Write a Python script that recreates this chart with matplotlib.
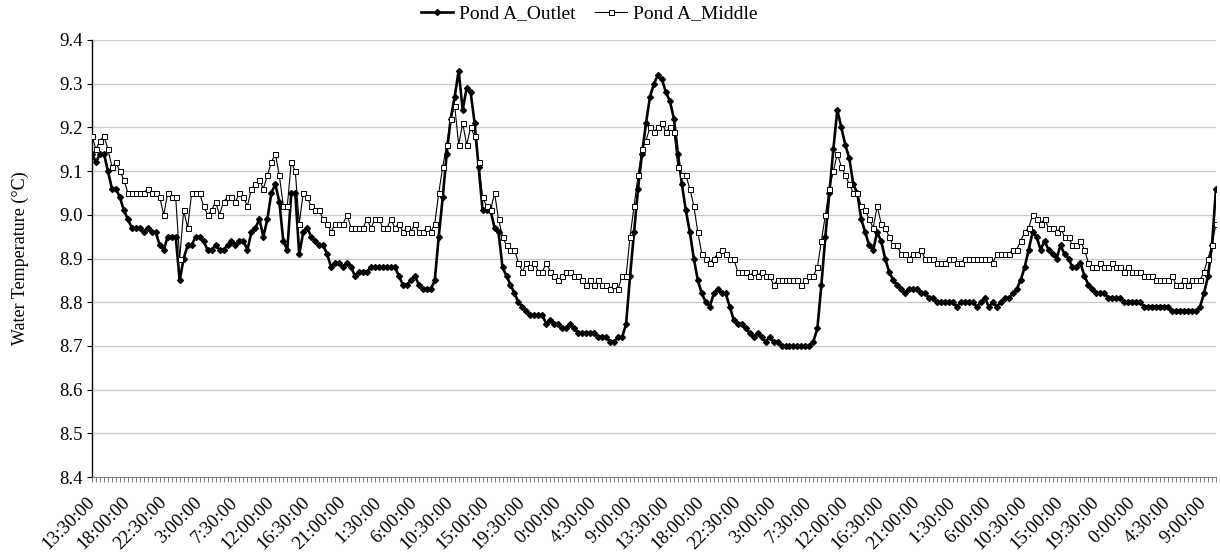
import matplotlib.pyplot as plt
import numpy as np

plt.rcParams['font.family'] = ['Liberation Serif', 'DejaVu Serif']

# water temperature every 30 min, first reading at 13:30
outlet = [
    9.14, 9.12, 9.14, 9.14, 9.10, 9.06, 9.06, 9.04, 9.01, 8.99,
    8.97, 8.97, 8.97, 8.96, 8.97, 8.96, 8.96, 8.93, 8.92, 8.95,
    8.95, 8.95, 8.85, 8.90, 8.93, 8.93, 8.95, 8.95, 8.94, 8.92,
    8.92, 8.93, 8.92, 8.92, 8.93, 8.94, 8.93, 8.94, 8.94, 8.92,
    8.96, 8.97, 8.99, 8.95, 8.99, 9.05, 9.07, 9.03, 8.94, 8.92,
    9.05, 9.05, 8.91, 8.96, 8.97, 8.95, 8.94, 8.93, 8.93, 8.91,
    8.88, 8.89, 8.89, 8.88, 8.89, 8.88, 8.86, 8.87, 8.87, 8.87,
    8.88, 8.88, 8.88, 8.88, 8.88, 8.88, 8.88, 8.86, 8.84, 8.84,
    8.85, 8.86, 8.84, 8.83, 8.83, 8.83, 8.85, 8.95, 9.04, 9.14,
    9.22, 9.27, 9.33, 9.24, 9.29, 9.28, 9.21, 9.11, 9.01, 9.01,
    9.01, 8.97, 8.96, 8.88, 8.86, 8.84, 8.82, 8.80, 8.79, 8.78,
    8.77, 8.77, 8.77, 8.77, 8.75, 8.76, 8.75, 8.75, 8.74, 8.74,
    8.75, 8.74, 8.73, 8.73, 8.73, 8.73, 8.73, 8.72, 8.72, 8.72,
    8.71, 8.71, 8.72, 8.72, 8.75, 8.86, 8.96, 9.06, 9.14, 9.21,
    9.27, 9.30, 9.32, 9.31, 9.28, 9.26, 9.22, 9.14, 9.07, 9.01,
    8.96, 8.90, 8.85, 8.82, 8.80, 8.79, 8.82, 8.83, 8.82, 8.82,
    8.79, 8.76, 8.75, 8.75, 8.74, 8.73, 8.72, 8.73, 8.72, 8.71,
    8.72, 8.71, 8.71, 8.70, 8.70, 8.70, 8.70, 8.70, 8.70, 8.70,
    8.70, 8.71, 8.74, 8.84, 8.95, 9.05, 9.15, 9.24, 9.20, 9.16,
    9.13, 9.07, 9.05, 8.99, 8.96, 8.93, 8.92, 8.96, 8.94, 8.90,
    8.87, 8.85, 8.84, 8.83, 8.82, 8.83, 8.83, 8.83, 8.82, 8.82,
    8.81, 8.81, 8.80, 8.80, 8.80, 8.80, 8.80, 8.79, 8.80, 8.80,
    8.80, 8.80, 8.79, 8.80, 8.81, 8.79, 8.80, 8.79, 8.80, 8.81,
    8.81, 8.82, 8.83, 8.85, 8.88, 8.92, 8.96, 8.95, 8.92, 8.94,
    8.92, 8.91, 8.90, 8.93, 8.91, 8.90, 8.88, 8.88, 8.89, 8.86,
    8.84, 8.83, 8.82, 8.82, 8.82, 8.81, 8.81, 8.81, 8.81, 8.80,
    8.80, 8.80, 8.80, 8.80, 8.79, 8.79, 8.79, 8.79, 8.79, 8.79,
    8.79, 8.78, 8.78, 8.78, 8.78, 8.78, 8.78, 8.78, 8.79, 8.82,
    8.86, 8.93, 9.06,
]

middle = [
    9.18, 9.15, 9.17, 9.18, 9.15, 9.11, 9.12, 9.10, 9.08, 9.05,
    9.05, 9.05, 9.05, 9.05, 9.06, 9.05, 9.05, 9.04, 9.00, 9.05,
    9.04, 9.04, 8.90, 9.01, 8.97, 9.05, 9.05, 9.05, 9.02, 9.00,
    9.01, 9.03, 9.00, 9.03, 9.04, 9.04, 9.03, 9.05, 9.04, 9.02,
    9.06, 9.07, 9.08, 9.06, 9.09, 9.12, 9.14, 9.09, 9.02, 9.02,
    9.12, 9.10, 8.98, 9.05, 9.04, 9.02, 9.01, 9.01, 8.99, 8.98,
    8.96, 8.98, 8.98, 8.98, 9.00, 8.97, 8.97, 8.97, 8.97, 8.99,
    8.97, 8.99, 8.99, 8.97, 8.97, 8.99, 8.97, 8.98, 8.96, 8.97,
    8.96, 8.98, 8.96, 8.96, 8.97, 8.96, 8.98, 9.05, 9.11, 9.16,
    9.22, 9.25, 9.16, 9.21, 9.16, 9.20, 9.18, 9.12, 9.04, 9.02,
    9.01, 9.05, 8.99, 8.95, 8.93, 8.92, 8.92, 8.89, 8.87, 8.89,
    8.88, 8.89, 8.87, 8.87, 8.89, 8.87, 8.86, 8.85, 8.86, 8.87,
    8.87, 8.86, 8.86, 8.85, 8.84, 8.85, 8.84, 8.85, 8.84, 8.84,
    8.83, 8.84, 8.83, 8.86, 8.86, 8.95, 9.02, 9.09, 9.15, 9.17,
    9.20, 9.19, 9.20, 9.21, 9.19, 9.20, 9.19, 9.11, 9.09, 9.09,
    9.06, 9.02, 8.96, 8.91, 8.90, 8.89, 8.90, 8.91, 8.92, 8.91,
    8.90, 8.90, 8.87, 8.87, 8.87, 8.86, 8.87, 8.86, 8.87, 8.86,
    8.86, 8.84, 8.85, 8.85, 8.85, 8.85, 8.85, 8.85, 8.84, 8.85,
    8.86, 8.86, 8.88, 8.94, 9.00, 9.06, 9.10, 9.14, 9.11, 9.09,
    9.07, 9.05, 9.05, 9.02, 9.01, 8.99, 8.97, 9.02, 8.98, 8.97,
    8.95, 8.93, 8.93, 8.91, 8.91, 8.90, 8.91, 8.91, 8.92, 8.90,
    8.90, 8.90, 8.89, 8.89, 8.89, 8.90, 8.90, 8.89, 8.89, 8.90,
    8.90, 8.90, 8.90, 8.90, 8.90, 8.90, 8.89, 8.91, 8.91, 8.91,
    8.91, 8.92, 8.92, 8.94, 8.96, 8.97, 9.00, 8.99, 8.98, 8.99,
    8.97, 8.97, 8.96, 8.97, 8.95, 8.95, 8.93, 8.93, 8.94, 8.92,
    8.89, 8.88, 8.88, 8.89, 8.88, 8.88, 8.89, 8.88, 8.88, 8.87,
    8.88, 8.87, 8.87, 8.87, 8.86, 8.86, 8.86, 8.85, 8.85, 8.85,
    8.85, 8.86, 8.84, 8.84, 8.85, 8.84, 8.85, 8.85, 8.85, 8.87,
    8.90, 8.93, 8.98,
]

# one label every 9 readings (4.5 h)
tick_labels = [
    '13:30:00', '18:00:00', '22:30:00', '3:00:00', '7:30:00', '12:00:00',
    '16:30:00', '21:00:00', '1:30:00', '6:00:00', '10:30:00', '15:00:00',
    '19:30:00', '0:00:00', '4:30:00', '9:00:00', '13:30:00', '18:00:00',
    '22:30:00', '3:00:00', '7:30:00', '12:00:00', '16:30:00', '21:00:00',
    '1:30:00', '6:00:00', '10:30:00', '15:00:00', '19:30:00', '0:00:00',
    '4:30:00', '9:00:00',
]

fs = 13.5
fig = plt.figure(figsize=(12.2, 5.57), dpi=100)
ax = fig.add_axes([0.0754, 0.1436, 0.9213, 0.7846])

x = np.arange(len(outlet))
ax.plot(x, outlet, color='black', lw=1.9, marker='D', ms=3.0,
        mfc='black', mec='black', label='Pond A_Outlet', zorder=3)
ax.plot(x, middle, color='black', lw=0.8, marker='s', ms=3.6,
        mfc='white', mec='black', mew=0.7, label='Pond A_Middle', zorder=4)

ax.set_xlim(0, len(outlet) - 1)
ax.set_ylim(8.4, 9.4)
ax.set_yticks(np.arange(8.4, 9.41, 0.1))
ax.set_yticklabels(['%.1f' % v for v in np.arange(8.4, 9.41, 0.1)], fontsize=fs)
ax.yaxis.grid(True, color='#c8c8c8', lw=0.9)
ax.set_axisbelow(True)

ax.set_xticks(np.arange(0, len(outlet), 9))
ax.set_xticks(x, minor=True)
ax.set_xticklabels(tick_labels[:len(ax.get_xticks())], rotation=45,
                   ha='right', va='center', rotation_mode='anchor', fontsize=fs)
ax.tick_params(axis='x', which='both', length=3.5, width=0.7, color='#808080',
               direction='out', pad=13)
ax.tick_params(axis='y', length=3.5, width=0.8, direction='out', pad=3)

for s in ['top', 'right']:
    ax.spines[s].set_visible(False)
ax.spines['left'].set_linewidth(1.0)
ax.spines['bottom'].set_color('#808080')
ax.spines['bottom'].set_linewidth(0.8)

ax.set_ylabel('Water Temperature (\u00b0C)', fontsize=13, labelpad=22)

fig.legend(loc='upper center', bbox_to_anchor=(0.483, 1.012), ncol=2,
           frameon=False, fontsize=14, handlelength=1.65, handletextpad=0.3,
           columnspacing=1.0, borderaxespad=0.2)

fig.savefig('out.png', dpi=100)
